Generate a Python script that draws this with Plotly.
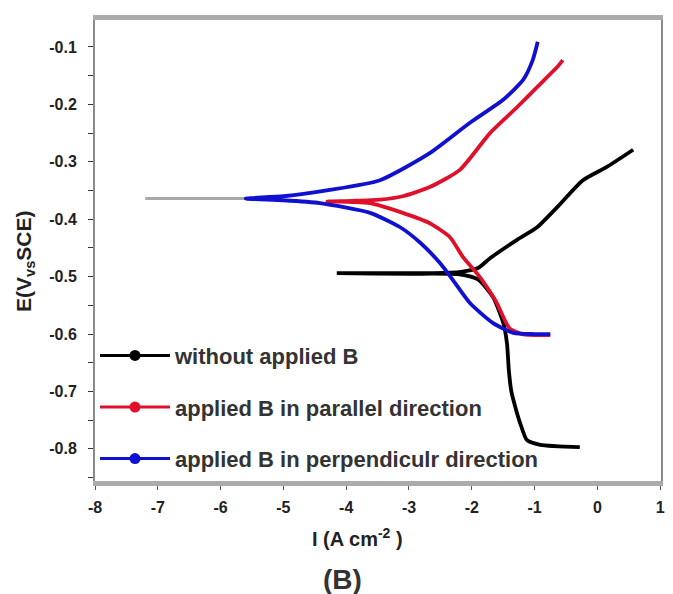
import plotly.graph_objects as go

# ---- data ----
x_without = [0.57, 0.15, -0.23, -0.64, -0.96, -1.28, -1.71, -1.9, -2.2, -3.0, -4.15,
             -3.0, -2.2, -1.9, -1.66, -1.5, -1.44, -1.41, -1.37, -1.30, -1.23, -1.12, -0.91, -0.28]
e_without = [-0.279, -0.309, -0.332, -0.379, -0.414, -0.436, -0.468, -0.485, -0.492, -0.494, -0.494,
             -0.495, -0.496, -0.505, -0.536, -0.580, -0.616, -0.663, -0.700, -0.730, -0.755, -0.785, -0.793, -0.797]

x_parallel = [-0.55, -0.64, -0.96, -1.28, -1.71, -2.19, -2.67, -3.1, -3.46, -3.9, -4.3,
              -3.9, -3.62, -3.10, -2.67, -2.35, -2.14, -1.92, -1.76, -1.60, -1.50, -1.40, -1.20, -0.75]
e_parallel = [-0.123, -0.135, -0.170, -0.205, -0.250, -0.314, -0.344, -0.360, -0.366, -0.368, -0.369,
              -0.370, -0.372, -0.389, -0.407, -0.431, -0.466, -0.494, -0.518, -0.546, -0.570, -0.590, -0.600, -0.602]

x_perp = [-0.95, -1.03, -1.18, -1.50, -2.03, -2.67, -3.46, -4.26, -5.0, -5.6,
          -5.0, -4.42, -3.62, -3.14, -2.82, -2.51, -2.30, -2.03, -1.66, -1.34, -1.0, -0.75]
e_perp = [-0.091, -0.123, -0.157, -0.192, -0.232, -0.285, -0.332, -0.349, -0.360, -0.364,
          -0.367, -0.372, -0.389, -0.414, -0.441, -0.476, -0.506, -0.546, -0.581, -0.598, -0.600, -0.600]

x_tail = [-7.2, -5.6]
e_tail = [-0.364, -0.364]

names = ["without applied B", "applied B in parallel direction", "applied B in perpendiculr direction"]
colors = ["#000000", "#e0102a", "#1010d0"]

x_ticks = [-8, -7, -6, -5, -4, -3, -2, -1, 0, 1]
y_ticks = [-0.1, -0.2, -0.3, -0.4, -0.5, -0.6, -0.7, -0.8]

FONT = "Liberation Sans, Arial, sans-serif"

fig = go.Figure()
fig.add_trace(go.Scatter(x=x_tail, y=e_tail, mode="lines", line=dict(color="#a8a8a8", width=3),
                         showlegend=False, hoverinfo="skip"))
series = [(x_without, e_without), (x_parallel, e_parallel), (x_perp, e_perp)]
for i, ((xs, ys), nm, c) in enumerate(zip(series, names, colors)):
    g = "g%d" % i
    fig.add_trace(go.Scatter(x=xs, y=ys, mode="lines", name=nm, legendgroup=g, showlegend=False,
                             line=dict(color=c, width=3.8, shape="spline", smoothing=0.6)))
    # legend entry (line with a dot, as in the original key)
    fig.add_trace(go.Scatter(x=[None], y=[None], mode="lines+markers", name=nm, legendgroup=g,
                             line=dict(color=c, width=3), marker=dict(color=c, size=11, symbol="circle")))

W, H = 673, 594
L, R, T, B = 95, 12, 20, 113
pw, ph = W - L - R, H - T - B

def px2paper(px, py):
    return (px - L) / pw, (H - B - py) / ph

fig.update_layout(
    width=W, height=H,
    margin=dict(l=L, r=R, t=T, b=B, autoexpand=False),
    paper_bgcolor="white", plot_bgcolor="white",
    font=dict(family=FONT, color="#222222"),
    showlegend=True,
    legend=dict(x=0.0, y=0.003, xanchor="left", yanchor="bottom",
                bgcolor="rgba(0,0,0,0)", traceorder="grouped", tracegroupgap=20,
                font=dict(family=FONT, size=22, color="#333333", weight="bold"),
                itemwidth=70),
    xaxis=dict(range=[-8, 1.013], tickvals=x_ticks, ticktext=[str(v) for v in x_ticks],
               showgrid=False, zeroline=False, showline=True, mirror=True, automargin=False,
               linecolor="#ababab", linewidth=5, ticks="outside", ticklen=4, tickcolor="#555",
               ticklabelstandoff=4,
               tickfont=dict(family=FONT, size=16, weight="bold", color="#222")),
    yaxis=dict(range=[-0.856, -0.053], tickvals=y_ticks, ticktext=[f"{v:.1f}" for v in y_ticks],
               showgrid=False, zeroline=False, showline=True, mirror=True, automargin=False,
               linecolor="#8a8a8a", linewidth=2, ticks="outside", ticklen=5, tickcolor="#333",
               ticklabelstandoff=8,
               minor=dict(dtick=0.05, tick0=-0.05, ticks="outside", ticklen=5, tickcolor="#333"),
               tickfont=dict(family=FONT, size=16, weight="bold", color="#222")),
)

ax, ay = px2paper(25, 261)
bx, by = px2paper(357, 537)
cx, cy = px2paper(342, 579)
fig.update_layout(annotations=[
    dict(text="E(V<sub>vs</sub>SCE)", x=ax, y=ay, xref="paper", yref="paper", showarrow=False,
         textangle=-90, xanchor="center", yanchor="middle",
         font=dict(family=FONT, size=21, weight="bold", color="#222")),
    dict(text="I (A cm<sup>-2</sup> )", x=bx, y=by, xref="paper", yref="paper", showarrow=False,
         xanchor="center", yanchor="middle",
         font=dict(family=FONT, size=20, weight="bold", color="#222")),
    dict(text="(B)", x=cx, y=cy, xref="paper", yref="paper", showarrow=False,
         xanchor="center", yanchor="middle",
         font=dict(family=FONT, size=28, weight="bold", color="#333")),
])

fig.write_html("out.html", config={"displayModeBar": False},
               post_script="document.body.style.margin='0';document.body.style.padding='0';")
